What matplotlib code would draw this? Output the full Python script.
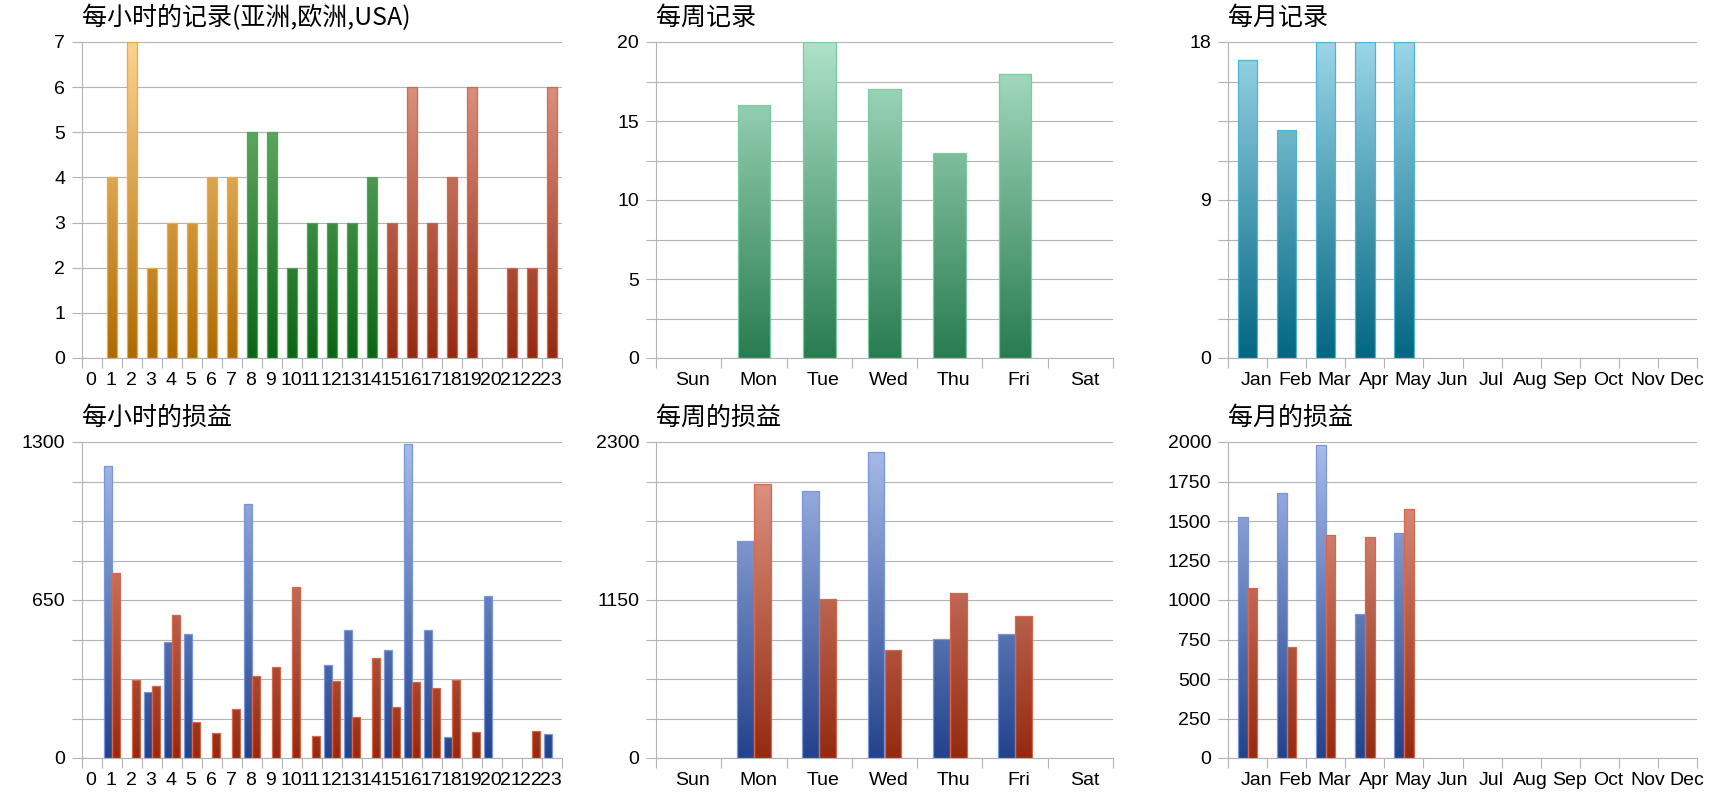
import numpy as np
import matplotlib
matplotlib.use('Agg')
import matplotlib.pyplot as plt
from matplotlib.colors import LinearSegmentedColormap
from matplotlib.transforms import ScaledTranslation, offset_copy

plt.rcParams['font.family'] = ['Liberation Sans', 'Noto Sans CJK SC', 'DejaVu Sans']

## 数据
hours = [str(h) for h in range(24)]
hour_records = [0, 4, 7, 2, 3, 3, 4, 4, 5, 5, 2, 3, 3, 3, 4, 3, 6, 3, 4, 6, 0, 2, 2, 6]
hour_region = ['亚洲'] * 8 + ['欧洲'] * 7 + ['USA'] * 9
hour_loss_a = [0, 1200, 0, 273, 477, 510, 0, 0, 1043, 0, 0, 0, 383, 527, 0, 443, 1292, 528, 88, 0, 667, 0, 0, 97]
hour_loss_b = [0, 761, 320, 298, 587, 150, 103, 200, 337, 376, 704, 92, 316, 167, 413, 211, 314, 288, 321, 106, 0, 0, 111, 0]

days = ['Sun', 'Mon', 'Tue', 'Wed', 'Thu', 'Fri', 'Sat']
week_records = [0, 16, 20, 17, 13, 18, 0]
week_loss_a = [0, 1582, 1946, 2227, 864, 900, 0]
week_loss_b = [0, 1994, 1155, 788, 1201, 1033, 0]

months = ['Jan', 'Feb', 'Mar', 'Apr', 'May', 'Jun', 'Jul', 'Aug', 'Sep', 'Oct', 'Nov', 'Dec']
month_records = [17, 13, 18, 18, 18, 0, 0, 0, 0, 0, 0, 0]
month_loss_a = [1523, 1675, 1981, 911, 1422, 0, 0, 0, 0, 0, 0, 0]
month_loss_b = [1078, 703, 1411, 1399, 1576, 0, 0, 0, 0, 0, 0, 0]

## 颜色 (底, 顶, 边)
gray = '#b3b3b3'
c_orange = ('#ae6a00', '#ffd38f', '#f5a83a')
c_green = ('#0a6614', '#7cbf7c', '#4fa457')
c_red = ('#942a10', '#e6a090', '#d9664a')
c_blue = ('#22428c', '#a9bdeb', '#7796dc')
c_week = ('#287c50', '#aee2c8', '#78cca0')
c_month = ('#036782', '#9ad6e8', '#4cb4d6')
region_color = {'亚洲': c_orange, '欧洲': c_green, 'USA': c_red}

fig = plt.figure(figsize=(17.2, 8), dpi=100)


def px_axes(left, right, top, bottom):
    return fig.add_axes([left / 1720, (800 - bottom) / 800, (right - left) / 1720, (bottom - top) / 800])


def grad_bars(ax, bars, colors, ymax):
    # 渐变按坐标轴高度, 不按单个柱子
    grad = np.linspace(0, 1, 256).reshape(-1, 1)
    for b, c in zip(bars, colors):
        if b.get_height() <= 0:
            b.set_visible(False)
            continue
        cmap = LinearSegmentedColormap.from_list('g', [c[0], c[1]])
        x0 = b.get_x()
        im = ax.imshow(grad, extent=[x0, x0 + b.get_width(), 0, ymax], origin='lower',
                       aspect='auto', cmap=cmap, zorder=2, interpolation='bilinear')
        im.set_clip_path(b)
        b.set_facecolor('none')
        b.set_edgecolor(c[2])
        b.set_linewidth(0.9)
        b.set_zorder(3)


def setup(ax, labels, ymax, ngrid, step, xshift, title):
    n = len(labels)
    ax.set_xlim(-0.5, n - 0.5)
    ax.set_ylim(0, ymax)
    ticks = np.linspace(0, ymax, ngrid + 1)
    ax.set_yticks(ticks)
    ax.set_yticklabels([f'{t:g}' if i % step == 0 else '' for i, t in enumerate(ticks)])
    ax.set_xticks(np.arange(n))
    ax.set_xticklabels(labels)
    ax.set_xticks(np.arange(n + 1) - 0.5, minor=True)
    ax.tick_params(axis='x', which='major', length=0, pad=10, labelsize=14)
    ax.tick_params(axis='x', which='minor', length=7.2, width=0.8, color=gray)
    ax.tick_params(axis='y', length=7.2, width=0.8, color=gray, pad=5, labelsize=14)
    ax.grid(axis='y', color=gray, lw=0.8)
    ax.set_axisbelow(True)
    for s in ['top', 'right']:
        ax.spines[s].set_visible(False)
    for s in ['left', 'bottom']:
        ax.spines[s].set_color(gray)
        ax.spines[s].set_linewidth(0.8)
    for lab in ax.get_xticklabels():
        lab.set_transform(lab.get_transform() + ScaledTranslation(xshift / 100, 0, fig.dpi_scale_trans))
    ax.text(0, 1, title, transform=offset_copy(ax.transAxes, fig=fig, x=0, y=24, units='dots'),
            ha='left', va='center', fontsize=18, family=['Noto Sans CJK SC', 'DejaVu Sans'])


## 每小时的记录
ax1 = px_axes(82, 562, 42, 358)
x = np.arange(len(hours))
bars = ax1.bar(x, hour_records, 0.48)
grad_bars(ax1, bars, [region_color[r] for r in hour_region], 7)
setup(ax1, hours, 7, 7, 1, -1, '每小时的记录(亚洲,欧洲,USA)')

## 每周记录
ax2 = px_axes(656, 1113, 42, 358)
x = np.arange(len(days))
bars = ax2.bar(x, week_records, 0.5)
grad_bars(ax2, bars, [c_week] * len(days), 20)
setup(ax2, days, 20, 8, 2, 4, '每周记录')

## 每月记录
ax3 = px_axes(1228, 1697, 42, 358)
x = np.arange(len(months))
bars = ax3.bar(x, month_records, 0.5)
grad_bars(ax3, bars, [c_month] * len(months), 18)
setup(ax3, months, 18, 8, 4, 9, '每月记录')

## 每小时的损益
ax4 = px_axes(82, 562, 442, 758)
x = np.arange(len(hours))
w = 0.38
b1 = ax4.bar(x - w / 2, hour_loss_a, w)
b2 = ax4.bar(x + w / 2, hour_loss_b, w)
grad_bars(ax4, b1, [c_blue] * len(hours), 1300)
grad_bars(ax4, b2, [c_red] * len(hours), 1300)
setup(ax4, hours, 1300, 8, 4, -1, '每小时的损益')

## 每周的损益
ax5 = px_axes(656, 1113, 442, 758)
x = np.arange(len(days))
w = 0.26
b1 = ax5.bar(x - w / 2, week_loss_a, w)
b2 = ax5.bar(x + w / 2, week_loss_b, w)
grad_bars(ax5, b1, [c_blue] * len(days), 2300)
grad_bars(ax5, b2, [c_red] * len(days), 2300)
setup(ax5, days, 2300, 8, 4, 4, '每周的损益')

## 每月的损益
ax6 = px_axes(1228, 1697, 442, 758)
x = np.arange(len(months))
w = 0.25
b1 = ax6.bar(x - w / 2, month_loss_a, w)
b2 = ax6.bar(x + w / 2, month_loss_b, w)
grad_bars(ax6, b1, [c_blue] * len(months), 2000)
grad_bars(ax6, b2, [c_red] * len(months), 2000)
setup(ax6, months, 2000, 8, 1, 9, '每月的损益')

fig.savefig('out.png', dpi=100)
